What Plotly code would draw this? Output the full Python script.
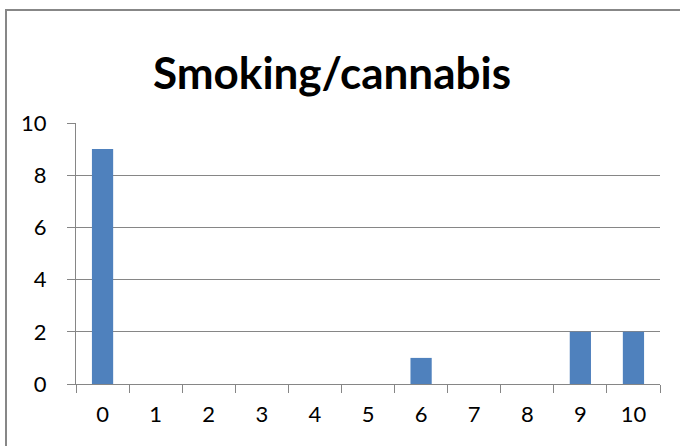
import plotly.graph_objects as go

categories = ["0", "1", "2", "3", "4", "5", "6", "7", "8", "9", "10"]
values = [9, 0, 0, 0, 0, 0, 1, 0, 0, 2, 2]
title_text = "Smoking/cannabis"

W, H = 680, 446
L, R, T, B = 76, 20, 123, 62
pw = W - L - R
ph = H - T - B

fig = go.Figure(go.Bar(x=categories, y=values, marker=dict(color="#4F81BD", line=dict(width=0))))

grid = "#868686"
fnt = "Lato, Carlito, Calibri, sans-serif"
fig.update_layout(
    width=W, height=H,
    margin=dict(l=L, r=R, t=T, b=B),
    paper_bgcolor="white", plot_bgcolor="white",
    bargap=0.6,
    showlegend=False,
    font=dict(family=fnt, color="black", size=20),
    title=dict(text="<b>" + title_text + "</b>", x=(332 - L) / pw, xref="paper", xanchor="center",
               y=1 - 74 / H, yanchor="middle", font=dict(size=44, family=fnt)),
    xaxis=dict(type="category", tickson="boundaries", ticks="outside", ticklen=8, tickcolor=grid,
               showline=True, linecolor=grid, linewidth=1, showgrid=False, tickfont=dict(size=22),
               ticklabelstandoff=11),
    yaxis=dict(range=[0, 10], dtick=2, ticks="outside", ticklen=8, tickcolor=grid,
               showline=True, linecolor=grid, linewidth=1, showgrid=True, gridcolor=grid, gridwidth=1,
               zeroline=False, tickfont=dict(size=22), ticklabelstandoff=16),
    shapes=[dict(type="rect", xref="paper", yref="paper",
                 x0=(6 - L) / pw, x1=(700 - L) / pw,
                 y0=(ph - (470 - T)) / ph, y1=(ph - (10 - T)) / ph,
                 line=dict(color="#878787", width=2), fillcolor="rgba(0,0,0,0)", layer="above")],
)

fig.write_html("out.html")
